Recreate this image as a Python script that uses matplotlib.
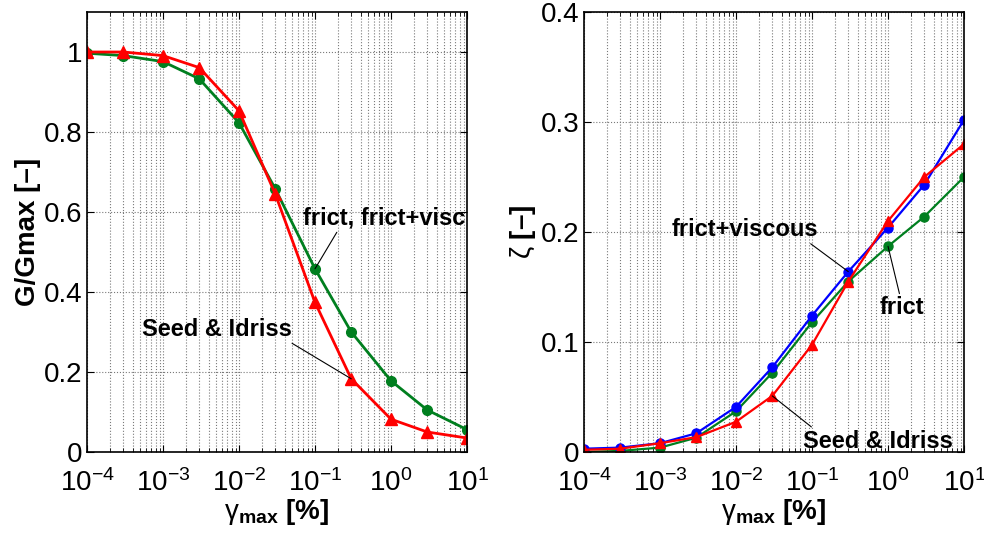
import numpy as np
import matplotlib.pyplot as plt
from matplotlib.ticker import LogLocator, NullFormatter

plt.rcParams['font.family'] = ['Liberation Sans', 'DejaVu Sans']
plt.rcParams['mathtext.fontset'] = 'custom'
plt.rcParams['mathtext.rm'] = 'Liberation Sans'
plt.rcParams['mathtext.it'] = 'Liberation Sans:italic'
plt.rcParams['mathtext.bf'] = 'Liberation Sans:bold'

# shear strain amplitude [%]
gamma = [1e-4, 3e-4, 1e-3, 3e-3, 1e-2, 3e-2, 1e-1, 3e-1, 1, 3, 10]

# modulus reduction G/Gmax
g_frict = [0.997, 0.991, 0.976, 0.933, 0.823, 0.658, 0.458, 0.300, 0.178, 0.105, 0.056]
g_seed = [1.0, 1.0, 0.991, 0.961, 0.853, 0.645, 0.374, 0.183, 0.082, 0.050, 0.035]

# damping ratio zeta
z_visc = [0.003, 0.004, 0.008, 0.017, 0.041, 0.077, 0.124, 0.164, 0.204, 0.243, 0.302]
z_frict = [0.000, 0.001, 0.004, 0.013, 0.037, 0.072, 0.118, 0.155, 0.187, 0.214, 0.250]
z_seed = [0.002, 0.003, 0.008, 0.0135, 0.0275, 0.051, 0.0975, 0.155, 0.210, 0.250, 0.280]

RED = '#ff0000'
GREEN = '#007f1f'
BLUE = '#0000ff'

fig = plt.figure(figsize=(9.84, 5.36), dpi=100)
ax1 = fig.add_axes([0.0884, 0.1567, 0.3862, 0.8209])
ax2 = fig.add_axes([0.5935, 0.1567, 0.3862, 0.8209])


def style(ax, ylim, yticks, ylabels):
    ax.set_xscale('log')
    ax.set_xlim(1e-4, 10)
    ax.set_ylim(*ylim)
    ax.set_yticks(yticks)
    ax.set_yticklabels(ylabels)
    ax.xaxis.set_major_locator(LogLocator(base=10, numticks=20))
    ax.xaxis.set_minor_locator(LogLocator(base=10, subs=np.arange(2, 10), numticks=100))
    ax.xaxis.set_minor_formatter(NullFormatter())
    ax.tick_params(which='both', direction='in', top=True, right=True, labelsize=20)
    ax.tick_params(which='major', length=5)
    ax.tick_params(which='minor', length=3)
    ax.tick_params(axis='x', which='major', pad=12.5)
    ax.grid(True, which='major', color='#7a7a7a', linestyle=':', linewidth=0.8)
    ax.grid(True, which='minor', axis='x', color='#7a7a7a', linestyle=':', linewidth=0.8)
    ax.set_axisbelow(True)
    for s in ax.spines.values():
        s.set_linewidth(1.2)
    ax.set_xlabel(r'$\mathrm{\gamma}_{\mathbf{max}}$ [%]', fontsize=20, fontweight='bold', labelpad=0)


# left: modulus reduction
ax1.plot(gamma, g_frict, '-o', color=GREEN, lw=2.0, ms=7)
ax1.plot(gamma, g_seed, '-^', color=RED, lw=2.0, ms=8)
style(ax1, (0, 1.1), [0, 0.2, 0.4, 0.6, 0.8, 1], ['0', '0.2', '0.4', '0.6', '0.8', '1'])
ax1.set_ylabel('G/Gmax [–]', fontsize=20, fontweight='bold', labelpad=2)

line = dict(arrowstyle='-', color='black', lw=0.8, shrinkA=0, shrinkB=0)
ax1.annotate('frict, frict+visc', xy=(gamma[6], g_frict[6]), xytext=(0.069, 0.585),
             fontsize=17, fontweight='bold', ha='left', va='center',
             arrowprops=dict(line, relpos=(0.22, 0)))
ax1.annotate('Seed & Idriss', xy=(gamma[7], g_seed[7]), xytext=(5.3e-4, 0.3075),
             fontsize=17, fontweight='bold', ha='left', va='center',
             arrowprops=dict(line, relpos=(0.97, 0)))

# right: damping ratio
ax2.plot(gamma, z_frict, '-o', color=GREEN, lw=1.6, ms=6.5)
ax2.plot(gamma, z_visc, '-o', color=BLUE, lw=1.6, ms=6.5)
ax2.plot(gamma, z_seed, '-^', color=RED, lw=1.6, ms=7.5)
style(ax2, (0, 0.4), [0, 0.1, 0.2, 0.3, 0.4], ['0', '0.1', '0.2', '0.3', '0.4'])
ax2.set_ylabel(r'$\mathrm{\zeta}$ [–]', fontsize=20, fontweight='bold', labelpad=2)

ax2.annotate('frict+viscous', xy=(gamma[7], z_visc[7]), xytext=(1.44e-3, 0.2023),
             fontsize=17, fontweight='bold', ha='left', va='center',
             arrowprops=dict(line, relpos=(0.92, 0)))
ax2.annotate('frict', xy=(gamma[8], z_frict[8]), xytext=(0.785, 0.131),
             fontsize=17, fontweight='bold', ha='left', va='center',
             arrowprops=dict(line, relpos=(0.45, 1)))
ax2.annotate('Seed & Idriss', xy=(gamma[5], z_seed[5]), xytext=(0.0759, 0.0098),
             fontsize=17, fontweight='bold', ha='left', va='center',
             arrowprops=dict(line, relpos=(0.08, 1)))

fig.savefig('out.png', dpi=100)
